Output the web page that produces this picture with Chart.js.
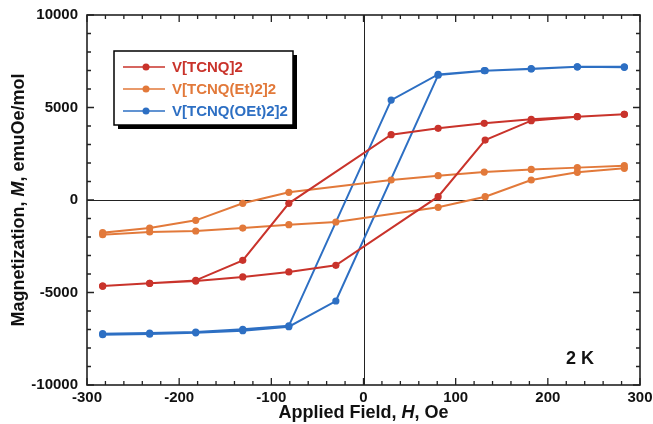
<!DOCTYPE html>
<html>
<head>
<meta charset="utf-8">
<script src="https://cdn.jsdelivr.net/npm/chart.js@4.4.1/dist/chart.umd.min.js"></script>
<style>
  html, body { margin: 0; padding: 0; background: #fff; }
  #wrap { width: 653px; height: 424px; }
</style>
</head>
<body>
<div id="wrap"><canvas id="hysteresis" width="653" height="424"></canvas></div>
<script>
//////////////////////////////// DATA

// field points, in loop order : down from +H then back up from -H
let fieldDown = [283, 232, 182, 131, 81, 30, -81, -131, -182, -232, -283];
let fieldUp = [-283, -232, -182, -131, -81, -30, 81, 132, 182, 232, 283];

let tcnqDown = [4630, 4505, 4360, 4145, 3875, 3530, -180, -3260, -4345, -4505, -4650];
let tcnqUp = [-4650, -4505, -4380, -4160, -3890, -3530, 180, 3240, 4290, 4505, 4630];

let etDown = [1855, 1750, 1655, 1510, 1315, 1080, 415, -180, -1100, -1515, -1765];
let etUp = [-1875, -1730, -1675, -1515, -1335, -1190, -395, 180, 1080, 1495, 1710];

let oetDown = [7170, 7200, 7080, 6990, 6790, 5400, -6800, -6990, -7135, -7190, -7226];
let oetUp = [-7280, -7250, -7180, -7065, -6850, -5460, 6750, 6990, 7100, 7200, 7200];

let seriesNames = ["V[TCNQ]2", "V[TCNQ(Et)2]2", "V[TCNQ(OEt)2]2"];
let seriesColors = ["#c9332b", "#e2793a", "#2d6fc3"];

let xTicks = [-300, -200, -100, 0, 100, 200, 300];
let yTicks = [-10000, -5000, 0, 5000, 10000];

//////////////////////////////// HELPERS

function loop(down, up) {
    let pts = [];
    for (let i = 0; i < down.length; i++) pts.push({x: fieldDown[i], y: down[i]});
    for (let i = 0; i < up.length; i++) pts.push({x: fieldUp[i], y: up[i]});
    return pts;
}

function makeSet(i, pts) {
    return {
        label: seriesNames[i],
        data: pts,
        showLine: true,
        borderColor: seriesColors[i],
        backgroundColor: seriesColors[i],
        pointBackgroundColor: seriesColors[i],
        pointBorderColor: seriesColors[i],
        borderWidth: 2,
        pointRadius: 3.6,
        pointBorderWidth: 0,
        tension: 0,
    };
}

// draws mixed bold / bold italic text pieces one after the other
function drawParts(ctx, parts, size, x, y) {
    let total = 0;
    parts.forEach(p => {
        ctx.font = (p[1] ? "italic " : "") + "bold " + size + "px 'Liberation Sans', Arial, sans-serif";
        total += ctx.measureText(p[0]).width;
    });
    let cx = x - total / 2;
    parts.forEach(p => {
        ctx.font = (p[1] ? "italic " : "") + "bold " + size + "px 'Liberation Sans', Arial, sans-serif";
        ctx.fillText(p[0], cx, y);
        cx += ctx.measureText(p[0]).width;
    });
}

//////////////////////////////// PLUGIN : frame, ticks inside, zero lines

const framePlugin = {
    id: 'frame',
    beforeDatasetsDraw(chart) {
        let ctx = chart.ctx;
        let a = chart.chartArea;
        let sx = chart.scales.x, sy = chart.scales.y;
        ctx.save();
        ctx.strokeStyle = "#222";

        // zero lines
        ctx.lineWidth = 1;
        ctx.beginPath();
        let x0 = Math.round(sx.getPixelForValue(0)) + 0.5;
        let y0 = Math.round(sy.getPixelForValue(0)) + 0.5;
        ctx.moveTo(x0, a.top); ctx.lineTo(x0, a.bottom);
        ctx.moveTo(a.left, y0); ctx.lineTo(a.right, y0);
        ctx.stroke();

        // ticks, pointing in, on the four sides
        ctx.lineWidth = 1.3;
        ctx.beginPath();
        for (let v = -300; v <= 300; v += 20) {
            let px = sx.getPixelForValue(v);
            let len = (v % 100 === 0) ? 7 : 4;
            ctx.moveTo(px, a.bottom); ctx.lineTo(px, a.bottom - len);
            ctx.moveTo(px, a.top); ctx.lineTo(px, a.top + len);
        }
        for (let v = -10000; v <= 10000; v += 1000) {
            let py = sy.getPixelForValue(v);
            let len = (v % 5000 === 0) ? 7 : 4;
            ctx.moveTo(a.left, py); ctx.lineTo(a.left + len, py);
            ctx.moveTo(a.right, py); ctx.lineTo(a.right - len, py);
        }
        ctx.stroke();

        // box
        ctx.lineWidth = 1.6;
        ctx.strokeRect(a.left, a.top, a.right - a.left, a.bottom - a.top);
        ctx.restore();
    },
    afterDraw(chart) {
        let ctx = chart.ctx;
        let a = chart.chartArea;
        ctx.save();
        ctx.fillStyle = "#111";
        ctx.textBaseline = "middle";
        ctx.textAlign = "left";

        // axis titles
        drawParts(ctx, [["Applied Field, ", false], ["H", true], [", Oe", false]], 18, (a.left + a.right) / 2, 413);
        ctx.save();
        ctx.translate(19, (a.top + a.bottom) / 2);
        ctx.rotate(-Math.PI / 2);
        drawParts(ctx, [["Magnetization, ", false], ["M", true], [", emuOe/mol", false]], 18, 0, 0);
        ctx.restore();

        // temperature label
        ctx.font = "bold 18px 'Liberation Sans', Arial, sans-serif";
        ctx.fillText("2 K", 566, 359);

        // legend box with shadow
        let lx = 114, ly = 51, lw = 179, lh = 74;
        ctx.fillStyle = "#000";
        ctx.fillRect(lx + 4, ly + 4, lw, lh);
        ctx.fillStyle = "#fff";
        ctx.fillRect(lx, ly, lw, lh);
        ctx.strokeStyle = "#000";
        ctx.lineWidth = 1.5;
        ctx.strokeRect(lx, ly, lw, lh);

        let rows = [67, 89, 111];
        chart.data.datasets.forEach((ds, i) => {
            let y = rows[i];
            ctx.strokeStyle = ds.borderColor;
            ctx.lineWidth = 1.5;
            ctx.beginPath();
            ctx.moveTo(123, y); ctx.lineTo(165, y);
            ctx.stroke();
            ctx.fillStyle = ds.borderColor;
            ctx.beginPath();
            ctx.arc(146, y, 3.5, 0, Math.PI * 2);
            ctx.fill();
            ctx.font = "bold 15px 'Liberation Sans', Arial, sans-serif";
            ctx.fillText(ds.label, 172, y + 1);
        });
        ctx.restore();
    }
};

//////////////////////////////// CHART

let tickFont = {family: "'Liberation Sans', Arial, sans-serif", size: 15, weight: 'bold'};

let chart = document.getElementById("hysteresis");
let loopChart = new Chart(chart, {
    type: 'scatter',
    data: {
        datasets: [
            makeSet(0, loop(tcnqDown, tcnqUp)),
            makeSet(1, loop(etDown, etUp)),
            makeSet(2, loop(oetDown, oetUp)),
        ]
    },
    options: {
        responsive: false,
        animation: false,
        layout: { padding: { top: 15, right: 13, left: 0, bottom: 0 } },
        plugins: {
            legend: { display: false },
            tooltip: { enabled: false },
        },
        scales: {
            x: {
                type: 'linear',
                min: -300,
                max: 300,
                afterBuildTicks: s => { s.ticks = xTicks.map(v => ({value: v})); },
                ticks: { font: tickFont, color: '#111', padding: 4, maxRotation: 0, autoSkip: false,
                         callback: v => String(v) },
                grid: { display: false, drawTicks: false },
                border: { display: false },
                afterFit: s => { s.height = 39; s.paddingLeft = 0; s.paddingRight = 0; },
            },
            y: {
                type: 'linear',
                min: -10000,
                max: 10000,
                afterBuildTicks: s => { s.ticks = yTicks.map(v => ({value: v})); },
                ticks: { font: tickFont, color: '#111', padding: 9, autoSkip: false,
                         callback: v => String(v) },
                grid: { display: false, drawTicks: false },
                border: { display: false },
                afterFit: s => { s.width = 87; s.paddingTop = 0; s.paddingBottom = 0; },
            }
        }
    },
    plugins: [framePlugin]
});
</script>
</body>
</html>
